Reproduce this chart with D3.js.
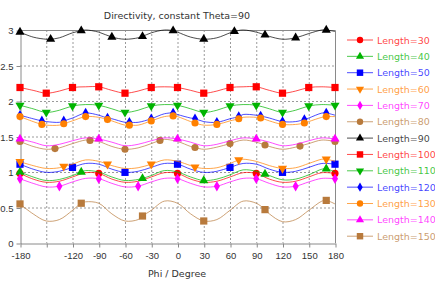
<!DOCTYPE html>
<html lang="en">
<head>
  <meta charset="UTF-8">
  <title>Directivity, constant Theta=90</title>
  <style>
    body { margin: 0; background: #fff; }
    svg { display: block; font-family: "DejaVu Sans", sans-serif; }
    .axis path, .axis line { stroke: #8a8a8a; }
    .axis text { fill: #333; font-size: 9.5px; }
    .grid { stroke: #9a9a9a; stroke-dasharray: 2,2; stroke-width: 1; }
    .line { fill: none; stroke-width: 1px; stroke-opacity: 0.7; }
  </style>
</head>
<body>
  <script src="https://cdn.jsdelivr.net/npm/d3@7"></script>
  <script>
    // phi grid the curves are read on
    const phi = [-180, -165, -150, -135, -120, -105, -90, -75, -60, -45, -30, -15, 0,
      15, 30, 45, 60, 75, 90, 105, 120, 135, 150, 165, 180];
    const xTicks = [-180, -150, -120, -90, -60, -30, 0, 30, 60, 90, 120, 150, 180];
    const yTicks = [0, 0.5, 1, 1.5, 2, 2.5, 3];
    const lengths = [30, 40, 50, 60, 70, 80, 90, 100, 110, 120, 130, 140, 150];

    // directivity per length on the phi grid
    const len30 = [0.98, 0.90, 0.855, 0.87, 0.93, 0.99, 0.98, 0.90, 0.855, 0.87, 0.93, 0.99, 0.98,
      0.90, 0.855, 0.87, 0.93, 0.99, 0.98, 0.90, 0.855, 0.87, 0.93, 0.99, 0.98];
    const len40 = [1.00, 0.93, 0.88, 0.895, 0.95, 1.02, 1.00, 0.93, 0.88, 0.895, 0.95, 1.02, 1.00,
      0.93, 0.88, 0.90, 0.96, 1.03, 1.01, 0.95, 0.89, 0.90, 0.96, 1.04, 1.00];
    const len50 = [1.11, 1.04, 0.995, 1.01, 1.065, 1.12, 1.11, 1.04, 0.995, 1.01, 1.065, 1.12, 1.11,
      1.04, 0.995, 1.01, 1.065, 1.12, 1.11, 1.04, 0.995, 1.01, 1.065, 1.12, 1.11];
    const len60 = [1.145, 1.09, 1.05, 1.06, 1.11, 1.17, 1.15, 1.09, 1.05, 1.06, 1.11, 1.17, 1.15,
      1.09, 1.05, 1.06, 1.12, 1.18, 1.15, 1.09, 1.05, 1.06, 1.12, 1.18, 1.15];
    const len70 = [0.905, 0.84, 0.79, 0.80, 0.86, 0.91, 0.905, 0.84, 0.79, 0.80, 0.86, 0.91, 0.905,
      0.84, 0.79, 0.80, 0.86, 0.91, 0.905, 0.84, 0.79, 0.80, 0.86, 0.91, 0.905];
    const len80 = [1.43, 1.36, 1.32, 1.34, 1.40, 1.45, 1.43, 1.36, 1.32, 1.34, 1.40, 1.46, 1.43,
      1.36, 1.32, 1.35, 1.40, 1.45, 1.42, 1.36, 1.32, 1.35, 1.40, 1.45, 1.43];
    const len90 = [2.97, 2.90, 2.87, 2.89, 2.96, 3.00, 2.97, 2.90, 2.87, 2.89, 2.96, 3.00, 2.97,
      2.90, 2.87, 2.89, 2.96, 3.00, 2.97, 2.91, 2.87, 2.89, 2.95, 3.00, 2.98];
    const len100 = [2.19, 2.15, 2.11, 2.14, 2.19, 2.20, 2.20, 2.15, 2.11, 2.14, 2.19, 2.20, 2.19,
      2.15, 2.11, 2.14, 2.19, 2.20, 2.20, 2.15, 2.11, 2.14, 2.19, 2.20, 2.19];
    const len110 = [1.94, 1.89, 1.84, 1.87, 1.93, 1.95, 1.94, 1.89, 1.84, 1.87, 1.93, 1.95, 1.94,
      1.89, 1.84, 1.87, 1.93, 1.95, 1.94, 1.89, 1.84, 1.87, 1.93, 1.95, 1.94];
    const len120 = [1.80, 1.75, 1.71, 1.70, 1.76, 1.83, 1.80, 1.75, 1.70, 1.70, 1.75, 1.82, 1.81,
      1.76, 1.71, 1.70, 1.75, 1.81, 1.80, 1.76, 1.71, 1.71, 1.76, 1.83, 1.80];
    const len130 = [1.78, 1.71, 1.66, 1.66, 1.72, 1.78, 1.77, 1.72, 1.66, 1.66, 1.72, 1.78, 1.78,
      1.71, 1.66, 1.67, 1.72, 1.77, 1.77, 1.72, 1.67, 1.67, 1.71, 1.77, 1.78];
    const len140 = [1.465, 1.42, 1.37, 1.39, 1.44, 1.48, 1.465, 1.42, 1.37, 1.39, 1.44, 1.48, 1.465,
      1.42, 1.37, 1.39, 1.44, 1.48, 1.465, 1.42, 1.37, 1.39, 1.44, 1.48, 1.465];
    const len150 = [0.55, 0.41, 0.31, 0.33, 0.46, 0.58, 0.56, 0.41, 0.31, 0.33, 0.46, 0.59, 0.56,
      0.41, 0.31, 0.33, 0.46, 0.59, 0.56, 0.41, 0.30, 0.33, 0.46, 0.59, 0.55];

    // marker points [phi, value] (the line passes through these too)
    const mk30 = [[-180, 0.98], [-90, 0.98], [0, 0.98], [90, 0.98], [180, 0.98]];
    const mk40 = [[-180, 1.00], [-110, 1.00], [-40, 0.91], [30, 0.88], [100, 0.97], [170, 1.045]];
    const mk50 = [[-180, 1.11], [-120, 1.065], [-60, 0.995], [0, 1.11], [60, 1.065], [120, 0.995], [180, 1.11]];
    const mk60 = [[-180, 1.145], [-130, 1.08], [-80, 1.11], [-30, 1.11], [20, 1.07], [70, 1.17], [120, 1.05], [170, 1.18]];
    const mk70 = [[-180, 0.905], [-135, 0.80], [-90, 0.905], [-45, 0.80], [0, 0.905], [45, 0.80],
      [90, 0.905], [135, 0.80], [180, 0.905]];
    const mk80 = [[-180, 1.43], [-140, 1.33], [-100, 1.445], [-60, 1.32], [-20, 1.445], [20, 1.345],
      [60, 1.40], [100, 1.38], [140, 1.365], [180, 1.43]];
    const mk90 = [[-180, 2.97], [-145, 2.87], [-110, 2.99], [-75, 2.90], [-40, 2.91], [-5, 2.99],
      [30, 2.87], [65, 2.98], [100, 2.93], [135, 2.89], [170, 3.00]];
    const mk100 = [[-180, 2.19], [-150, 2.11], [-120, 2.19], [-90, 2.20], [-60, 2.11], [-30, 2.19], [0, 2.19],
      [30, 2.11], [60, 2.19], [90, 2.20], [120, 2.11], [150, 2.19], [180, 2.19]];
    const mk110 = [[-180, 1.94], [-150, 1.84], [-120, 1.93], [-90, 1.94], [-60, 1.84], [-30, 1.93], [0, 1.94],
      [30, 1.84], [60, 1.93], [90, 1.94], [120, 1.84], [150, 1.93], [180, 1.94]];
    const mk120 = [[-180, 1.80], [-155, 1.72], [-130, 1.72], [-105, 1.83], [-80, 1.76], [-55, 1.70], [-30, 1.75],
      [-5, 1.83], [20, 1.75], [45, 1.70], [70, 1.78], [95, 1.79], [120, 1.71], [145, 1.74], [170, 1.83]];
    const mk130 = [[-180, 1.78], [-155, 1.67], [-130, 1.68], [-105, 1.78], [-80, 1.74], [-55, 1.66], [-30, 1.72],
      [-5, 1.79], [20, 1.69], [45, 1.67], [70, 1.75], [95, 1.76], [120, 1.67], [145, 1.69], [170, 1.78]];
    const mk140 = [[-180, 1.465], [-90, 1.465], [0, 1.465], [90, 1.465], [180, 1.465]];
    const mk150 = [[-180, 0.55], [-110, 0.56], [-40, 0.38], [30, 0.31], [100, 0.47], [170, 0.60]];

    const values = [len30, len40, len50, len60, len70, len80, len90, len100, len110, len120, len130, len140, len150];
    const marks = [mk30, mk40, mk50, mk60, mk70, mk80, mk90, mk100, mk110, mk120, mk130, mk140, mk150];

    const colors = ['#ff0000', '#00b400', '#0000ff', '#ff8000', '#ff00ff', '#b87a3c', '#000000',
      '#ff0000', '#00b400', '#0000ff', '#ff8000', '#ff00ff', '#b87a3c'];
    const shapes = ['circle', 'up', 'square', 'down', 'diamond', 'circle', 'up',
      'square', 'down', 'diamond', 'circle', 'up', 'square'];

    const width = 435, height = 283;
    const plotL = 20, plotR = 335, plotT = 30, plotB = 243;

    const x = d3.scaleLinear().domain([-180, 180]).range([plotL, plotR]);
    const y = d3.scaleLinear().domain([0, 3]).range([plotB, plotT]);

    const svg = d3.select('body').append('svg').attr('width', width).attr('height', height);

    // grid
    svg.append('g').selectAll('line').data(xTicks.slice(1, -1)).enter().append('line')
      .attr('class', 'grid')
      .attr('x1', d => x(d) + 0.5).attr('x2', d => x(d) + 0.5)
      .attr('y1', plotT).attr('y2', plotB);
    svg.append('g').selectAll('line').data(yTicks.slice(1, -1)).enter().append('line')
      .attr('class', 'grid')
      .attr('x1', plotL).attr('x2', plotR)
      .attr('y1', d => y(d) + 0.5).attr('y2', d => y(d) + 0.5);

    // frame top / right
    svg.append('path')
      .attr('d', `M${plotL},${plotT + 0.5}H${plotR + 0.5}V${plotB}`)
      .attr('fill', 'none').attr('stroke', '#8a8a8a');

    svg.append('g').attr('class', 'axis')
      .attr('transform', `translate(0.5,${plotB + 0.5})`)
      .call(d3.axisBottom(x).tickValues(xTicks).tickSizeInner(4).tickSizeOuter(0)
        .tickFormat(d => d === -150 ? '' : d))
      .call(g => g.selectAll('text').attr('dy', '0.9em'));

    svg.append('g').attr('class', 'axis')
      .attr('transform', `translate(${plotL + 0.5},0.5)`)
      .call(d3.axisLeft(y).tickValues(yTicks).tickSizeInner(4).tickSizeOuter(0).tickFormat(d3.format('~g')))
      .call(g => g.selectAll('text').attr('x', -7));

    function symbolFor(s, size) {
      const t = { circle: d3.symbolCircle, up: d3.symbolTriangle, down: d3.symbolTriangle,
        square: d3.symbolSquare, diamond: d3.symbolDiamond }[s];
      const area = { circle: 40, up: 36, down: 36, square: 52, diamond: 32 }[s];
      return d3.symbol().type(t).size(area * size)();
    }
    function markTransform(s, px, py) {
      return `translate(${px},${py})` + (s === 'down' ? ' rotate(180)' : '');
    }

    const line = d3.line().curve(d3.curveCatmullRom.alpha(0.5)).x(d => x(d[0])).y(d => y(d[1]));

    lengths.forEach((len, i) => {
      const pts = new Map(phi.map((p, j) => [p, values[i][j]]));
      marks[i].forEach(m => pts.set(m[0], m[1]));
      const data = Array.from(pts).sort((a, b) => a[0] - b[0]);
      const g = svg.append('g');
      g.append('path').datum(data).attr('class', 'line').attr('stroke', colors[i]).attr('d', line);
      g.selectAll('path.mk').data(marks[i]).enter().append('path')
        .attr('class', 'mk')
        .attr('d', symbolFor(shapes[i], 1))
        .attr('transform', d => markTransform(shapes[i], x(d[0]), y(d[1])))
        .attr('fill', colors[i]);
    });

    // title and axis label
    svg.append('text').attr('x', 177).attr('y', 15).attr('text-anchor', 'middle')
      .attr('dominant-baseline', 'central').attr('font-size', '9.5px').attr('fill', '#333')
      .text('Directivity, constant Theta=90');
    svg.append('text').attr('x', 177).attr('y', 273).attr('text-anchor', 'middle')
      .attr('dominant-baseline', 'central').attr('font-size', '9.5px').attr('fill', '#333')
      .text('Phi / Degree');

    // legend
    const legend = svg.append('g').selectAll('g').data(lengths).enter().append('g')
      .attr('transform', (d, i) => `translate(0,${40 + i * 16.35})`);
    legend.append('line').attr('x1', 347).attr('x2', 373)
      .attr('stroke', (d, i) => colors[i]).attr('stroke-opacity', 0.7);
    legend.append('path')
      .attr('d', (d, i) => symbolFor(shapes[i], 0.8))
      .attr('transform', (d, i) => markTransform(shapes[i], 360, 0))
      .attr('fill', (d, i) => colors[i]);
    legend.append('text').attr('x', 377).attr('dominant-baseline', 'central')
      .attr('font-size', '9.5px').attr('fill', (d, i) => colors[i]).attr('fill-opacity', 0.75)
      .text(d => 'Length=' + d);
  </script>
</body>
</html>
